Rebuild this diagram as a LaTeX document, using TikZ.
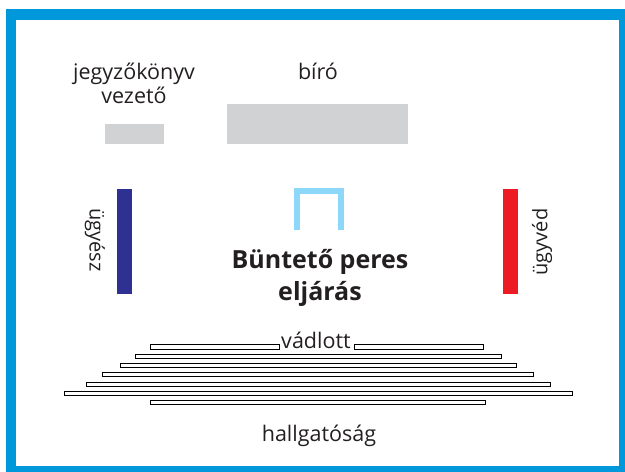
\documentclass[tikz,border=0pt]{standalone}
\usepackage{fontspec}
\setmainfont{Open Sans}
\definecolor{framebl}{HTML}{0098DA}
\definecolor{deskgr}{HTML}{D1D2D4}
\definecolor{prosbl}{HTML}{2E3192}
\definecolor{defred}{HTML}{ED1C24}
\definecolor{dockbl}{HTML}{8DD8F8}
\definecolor{inkgr}{HTML}{231F20}
\tikzset{
  role/.style={text=inkgr, font=\fontsize{21.5}{24}\selectfont, align=center, inner sep=0pt},
  side/.style={text=inkgr, font=\fontsize{20}{22}\selectfont, inner sep=0pt},
  bench/.style={draw=black, fill=white, line width=0.6pt}
}
\begin{document}
\begin{tikzpicture}[x=1pt, y=-1pt]

 \useasboundingbox (0,0) rectangle (625,472);
 \draw[line width=10.5pt, draw=framebl] (11,14.5) rectangle (624,471);

 % desks
 \fill[deskgr] (105,124) rectangle (164,144);
 \fill[deskgr] (227,104) rectangle (408,144);
 \node[role, anchor=base] (jegyzo) at (134,103) {jegyzőkönyv\\vezető};
 \node[role, anchor=base] (biro) at (318,79) {bíró};

 % sides
 \fill[prosbl] (117,189) rectangle (132,294);
 \fill[defred] (503,189) rectangle (518,294);
 \node[side, rotate=-90] (ugyesz) at (95,240) {ügyész};
 \node[side, rotate=90] (ugyved) at (542,242) {ügyvéd};

 % dock
 \draw[dockbl, line width=6pt] (297,230) -- (297,191) -- (341,191) -- (341,230);

 \node[text=inkgr, font=\fontsize{25}{32}\selectfont\bfseries, align=center, anchor=base] (eljaras) at (320,300) {Büntető peres\\eljárás};

 %benches
 \node[role, anchor=base] (vadlott) at (316,348) {vádlott};
 \draw[bench] (150,344) rectangle (279,349);
 \draw[bench] (354,344) rectangle (483,349);
 \foreach \top/\left/\right in { 354/135/501, 363/120/516, 372/102/533, 382/86/550, 391/64/572, 400/150/485 } {
         \draw[bench] (\left,\top) rectangle (\right,\top+4.5);
 }

 \node[role, anchor=base] (hallgat) at (319,441) {hallgatóság};

\end{tikzpicture}
\end{document}
